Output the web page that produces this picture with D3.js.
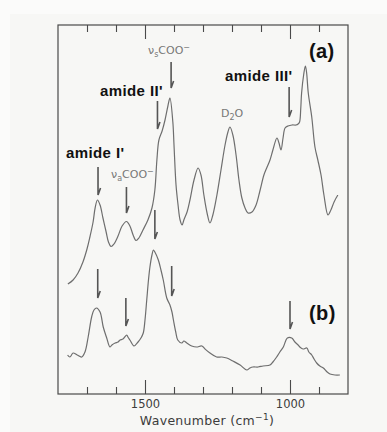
<!DOCTYPE html>
<html>
<head>
<meta charset="utf-8">
<script src="https://cdn.jsdelivr.net/npm/d3@7"></script>
<style>
  html, body { margin: 0; padding: 0; background: #fff; }
  svg { display: block; }
</style>
</head>
<body>
<svg id="chart" width="387" height="432"></svg>
<script>
// spectrum (a): [wavenumber, absorbance]
const specA = [
  [1766, 1.10], [1748, 1.14], [1731, 1.21], [1714, 1.32], [1700, 1.45], [1690, 1.57],
  [1679, 1.72], [1672, 1.86], [1664, 1.94], [1655, 1.89], [1645, 1.76], [1634, 1.62],
  [1626, 1.52], [1617, 1.475], [1607, 1.50], [1593, 1.58], [1579, 1.68], [1564, 1.725],
  [1552, 1.68], [1541, 1.59], [1531, 1.535], [1521, 1.56], [1507, 1.64], [1490, 1.74],
  [1476, 1.86], [1466, 2.04], [1459, 2.34], [1452, 2.54], [1441, 2.63], [1431, 2.74],
  [1421, 2.88], [1414, 2.96], [1404, 2.72], [1400, 2.49], [1393, 2.09], [1386, 1.89],
  [1379, 1.74], [1372, 1.69], [1366, 1.74], [1355, 1.82], [1345, 1.94], [1331, 2.14],
  [1317, 2.26], [1307, 2.19], [1297, 1.99], [1286, 1.81], [1276, 1.71], [1266, 1.79],
  [1252, 1.99], [1238, 2.24], [1224, 2.49], [1214, 2.62], [1207, 2.67], [1197, 2.59],
  [1186, 2.39], [1176, 2.14], [1166, 1.96], [1155, 1.86], [1145, 1.81], [1131, 1.82],
  [1117, 1.89], [1103, 2.04], [1090, 2.19], [1079, 2.27], [1069, 2.34], [1059, 2.44],
  [1045, 2.56], [1038, 2.51], [1031, 2.44], [1024, 2.56], [1017, 2.66], [1007, 2.68],
  [993, 2.69], [979, 2.69], [972, 2.70], [967, 2.72], [963, 2.85], [960, 3.01],
  [953, 3.19], [947, 3.28], [943, 3.22], [937, 3.01], [925, 2.77], [914, 2.47],
  [904, 2.34], [893, 2.19], [883, 1.99], [869, 1.79], [859, 1.84], [848, 1.92], [835, 1.99]
];

// spectrum (b): [wavenumber, absorbance]
const specB = [
  [1767, 0.39], [1759, 0.37], [1748, 0.41], [1734, 0.39], [1718, 0.37], [1707, 0.42],
  [1696, 0.57], [1684, 0.77], [1676, 0.84], [1667, 0.86], [1655, 0.82], [1644, 0.67],
  [1632, 0.56], [1621, 0.47], [1614, 0.49], [1603, 0.51], [1593, 0.52], [1586, 0.54],
  [1576, 0.55], [1563, 0.59], [1559, 0.57], [1552, 0.54], [1538, 0.48], [1524, 0.52],
  [1514, 0.56], [1506, 0.61], [1500, 0.74], [1494, 0.94], [1488, 1.14], [1483, 1.27],
  [1476, 1.39], [1471, 1.44], [1466, 1.42], [1454, 1.34], [1445, 1.24], [1437, 1.14],
  [1425, 0.96], [1414, 0.89], [1407, 0.82], [1402, 0.74], [1394, 0.62], [1387, 0.54],
  [1373, 0.51], [1366, 0.53], [1356, 0.51], [1339, 0.48], [1322, 0.47], [1304, 0.48],
  [1293, 0.45], [1276, 0.41], [1253, 0.37], [1235, 0.37], [1218, 0.36], [1197, 0.33],
  [1172, 0.29], [1149, 0.24], [1138, 0.26], [1128, 0.27], [1110, 0.27], [1093, 0.28],
  [1069, 0.29], [1059, 0.32], [1046, 0.37], [1035, 0.42], [1023, 0.47], [1009, 0.56],
  [994, 0.56], [983, 0.52], [972, 0.49], [966, 0.47], [955, 0.45], [942, 0.46],
  [935, 0.42], [925, 0.39], [917, 0.35], [908, 0.31], [897, 0.28], [885, 0.26],
  [872, 0.22], [862, 0.20], [845, 0.19], [828, 0.19]
];

// arrows: [wavenumber, from, to]
const arrowsA = [[1662, 2.27, 1.99], [1564, 2.07, 1.81], [1457, 2.93, 2.65], [1410, 3.32, 3.06], [1003, 3.07, 2.77]];
const arrowsB = [[1663, 1.25, 0.96], [1566, 0.96, 0.68], [1466, 1.84, 1.55], [1408, 1.28, 0.98], [1000, 0.93, 0.65]];

const majorTicks = [1500, 1000];
const minorTicks = [1700, 1600, 1400, 1300, 1200, 1100, 900];

const svg = d3.select('#chart');
const margin = { left: 58, right: 39, top: 25, bottom: 38 };
const W = 387, H = 432;

svg.append('rect').attr('x', 0).attr('y', 0).attr('width', W).attr('height', H).attr('fill', '#fbfbfa');
svg.append('rect').attr('x', 10).attr('y', 14).attr('width', W - 10).attr('height', H - 14).attr('fill', '#f7f7f5');

const x = d3.scaleLinear().domain([1800, 800]).range([margin.left, W - margin.right]);
const y = d3.scaleLinear().domain([0, 3.69]).range([H - margin.bottom, margin.top]);

const inkAxis = '#4a4a4a';
const inkLine = '#6e6e6e';

// frame
svg.append('rect')
  .attr('x', x(1800)).attr('y', y(3.69))
  .attr('width', x(800) - x(1800)).attr('height', y(0) - y(3.69))
  .attr('fill', 'none').attr('stroke', inkAxis).attr('stroke-width', 1.2);

function ticks(axisFn, vals, len, yPos, withLabels) {
  const g = svg.append('g')
    .attr('transform', `translate(0,${yPos})`)
    .call(axisFn(x).tickValues(vals).tickSize(-len).tickPadding(len + 7)
      .tickFormat(withLabels ? d3.format('d') : ''));
  g.select('.domain').remove();
  g.selectAll('.tick line').attr('stroke', inkAxis).attr('stroke-width', 1.1);
  return g;
}

ticks(d3.axisBottom, minorTicks, 7, y(0), false);
const bottomMajor = ticks(d3.axisBottom, majorTicks, 14, y(0), true);
bottomMajor.selectAll('.tick text')
  .attr('fill', '#3c3c3c')
  .attr('font-family', 'DejaVu Sans, sans-serif')
  .attr('font-size', 11.5)
  .attr('dy', '0.71em')
  .attr('y', 6);
ticks(d3.axisTop, minorTicks, 7, y(3.69), false);
ticks(d3.axisTop, majorTicks, 14, y(3.69), false);

// axis title
const title = svg.append('text')
  .attr('x', 207).attr('y', 425)
  .attr('text-anchor', 'middle')
  .attr('fill', '#3c3c3c')
  .attr('font-family', 'DejaVu Sans, sans-serif')
  .attr('font-size', 12.5)
  .attr('letter-spacing', 0.3);
title.append('tspan').text('Wavenumber (cm');
title.append('tspan').attr('font-size', 9).attr('dy', -5).text('−1');
title.append('tspan').attr('dy', 5).text(')');

// spectra
const line = d3.line()
  .x(d => x(d[0]))
  .y(d => y(d[1]))
  .curve(d3.curveCatmullRom.alpha(0.5));

[specA, specB].forEach(s => {
  svg.append('path')
    .datum(s)
    .attr('d', line)
    .attr('fill', 'none')
    .attr('stroke', inkLine)
    .attr('stroke-width', 1.2)
    .attr('stroke-linejoin', 'round');
});

// arrows
arrowsA.concat(arrowsB).forEach(a => {
  const ax = x(a[0]), y0 = y(a[1]), y1 = y(a[2]);
  svg.append('path')
    .attr('d', `M${ax},${y0} L${ax},${y1} L${ax + 2.5},${y1 - 7}`)
    .attr('fill', 'none')
    .attr('stroke', '#555')
    .attr('stroke-width', 1.6)
    .attr('stroke-linejoin', 'miter');
});

// labels
function bold(txt, px, py, size) {
  svg.append('text')
    .attr('x', px).attr('y', py)
    .attr('font-family', 'Liberation Sans, Arial, sans-serif')
    .attr('font-weight', 'bold')
    .attr('font-size', size)
    .attr('fill', '#111')
    .attr('letter-spacing', 0.4)
    .text(txt);
}

bold("amide I'", 66, 158, 15);
bold("amide II'", 100, 96, 15);
bold("amide III'", 225, 81, 15);
bold('(a)', 309, 58, 20);
bold('(b)', 309, 320, 20);

function gray(parts, px, py) {
  const t = svg.append('text')
    .attr('x', px).attr('y', py)
    .attr('font-family', 'DejaVu Sans, sans-serif')
    .attr('font-size', 11)
    .attr('fill', '#777');
  parts.forEach(p => {
    const ts = t.append('tspan').text(p.t);
    if (p.size) ts.attr('font-size', p.size);
    if (p.dy) ts.attr('dy', p.dy);
  });
}

gray([{ t: 'ν' }, { t: 's', size: 8, dy: 3 }, { t: 'COO', dy: -3 }, { t: '−', size: 8, dy: -4 }], 148, 54);
gray([{ t: 'ν' }, { t: 'a', size: 8, dy: 3 }, { t: 'COO', dy: -3 }, { t: '−', size: 8, dy: -4 }], 111, 178);
gray([{ t: 'D' }, { t: '2', size: 8, dy: 3 }, { t: 'O', dy: -3 }], 221, 117);
</script>
</body>
</html>
